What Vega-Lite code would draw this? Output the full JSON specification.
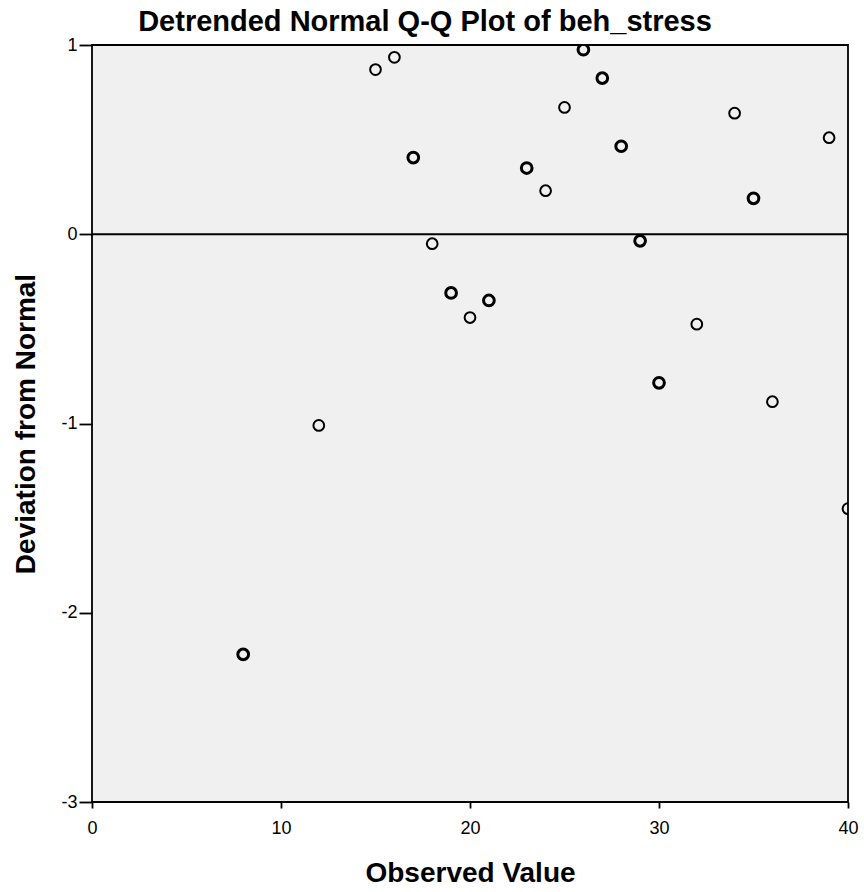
{
  "$schema": "https://vega.github.io/schema/vega-lite/v6.json",
  "autosize": "none",
  "width": 756,
  "height": 757,
  "padding": {"left": 92, "top": 45, "right": 16, "bottom": 90},
  "background": "white",
  "config": {
    "view": {"fill": "#f0f0f0", "stroke": "#000000", "strokeWidth": 1.8},
    "font": "Liberation Sans"
  },
  "title": {
    "text": "Detrended Normal Q-Q Plot of beh_stress",
    "font": "Liberation Sans",
    "fontSize": 29,
    "fontWeight": "bold",
    "color": "#000000",
    "anchor": "middle",
    "dx": -45,
    "offset": -1
  },
  "data": {
    "values": [
      {"observed": 8, "deviation": -2.22, "n": 2},
      {"observed": 12, "deviation": -1.01, "n": 1},
      {"observed": 15, "deviation": 0.87, "n": 1},
      {"observed": 16, "deviation": 0.935, "n": 1},
      {"observed": 17, "deviation": 0.405, "n": 2},
      {"observed": 18, "deviation": -0.05, "n": 1},
      {"observed": 19, "deviation": -0.31, "n": 2},
      {"observed": 20, "deviation": -0.44, "n": 1},
      {"observed": 21, "deviation": -0.35, "n": 2},
      {"observed": 23, "deviation": 0.35, "n": 2},
      {"observed": 24, "deviation": 0.23, "n": 1},
      {"observed": 25, "deviation": 0.67, "n": 1},
      {"observed": 26, "deviation": 0.975, "n": 2},
      {"observed": 27, "deviation": 0.825, "n": 2},
      {"observed": 28, "deviation": 0.465, "n": 2},
      {"observed": 29, "deviation": -0.035, "n": 2},
      {"observed": 30, "deviation": -0.785, "n": 2},
      {"observed": 32, "deviation": -0.475, "n": 1},
      {"observed": 34, "deviation": 0.64, "n": 1},
      {"observed": 35, "deviation": 0.19, "n": 2},
      {"observed": 36, "deviation": -0.885, "n": 1},
      {"observed": 39, "deviation": 0.51, "n": 1},
      {"observed": 40, "deviation": -1.45, "n": 1}
    ]
  },
  "layer": [
    {
      "mark": {"type": "rule", "color": "#000000", "strokeWidth": 1.8},
      "data": {"values": [{"zero": 0}]},
      "encoding": {"y": {"field": "zero", "type": "quantitative"}}
    },
    {
      "mark": {"type": "point", "shape": "circle", "filled": false, "color": "#000000", "size": 115, "clip": true, "opacity": 1},
      "encoding": {
        "x": {
          "field": "observed",
          "type": "quantitative",
          "scale": {"domain": [0, 40], "nice": false, "zero": false},
          "axis": {
            "title": "Observed Value",
            "values": [0, 10, 20, 30, 40],
            "labelExpr": "toString(datum.value)",
            "labelFlush": false,
            "labelOverlap": false,
            "grid": false,
            "domain": false,
            "tickColor": "#000000",
            "tickSize": 6,
            "tickWidth": 1.8,
            "labelFontSize": 18,
            "labelColor": "#000000",
            "labelPadding": 11,
            "labelFont": "Liberation Sans",
            "titleFont": "Liberation Sans",
            "titleFontSize": 28,
            "titleFontWeight": "bold",
            "titleColor": "#000000",
            "titlePadding": 22
          }
        },
        "y": {
          "field": "deviation",
          "type": "quantitative",
          "scale": {"domain": [-3, 1], "nice": false, "zero": false},
          "axis": {
            "title": "Deviation from Normal",
            "values": [-3, -2, -1, 0, 1],
            "labelExpr": "toString(datum.value)",
            "labelFlush": false,
            "labelOverlap": false,
            "grid": false,
            "domain": false,
            "tickColor": "#000000",
            "tickSize": 13,
            "tickWidth": 1.8,
            "labelFontSize": 18,
            "labelColor": "#000000",
            "labelPadding": 2,
            "labelFont": "Liberation Sans",
            "titleFont": "Liberation Sans",
            "titleFontSize": 28,
            "titleFontWeight": "bold",
            "titleColor": "#000000",
            "titlePadding": 20
          }
        },
        "strokeWidth": {
          "field": "n",
          "type": "quantitative",
          "scale": {"domain": [1, 2], "range": [2.0, 3.0]},
          "legend": null
        }
      }
    }
  ]
}
